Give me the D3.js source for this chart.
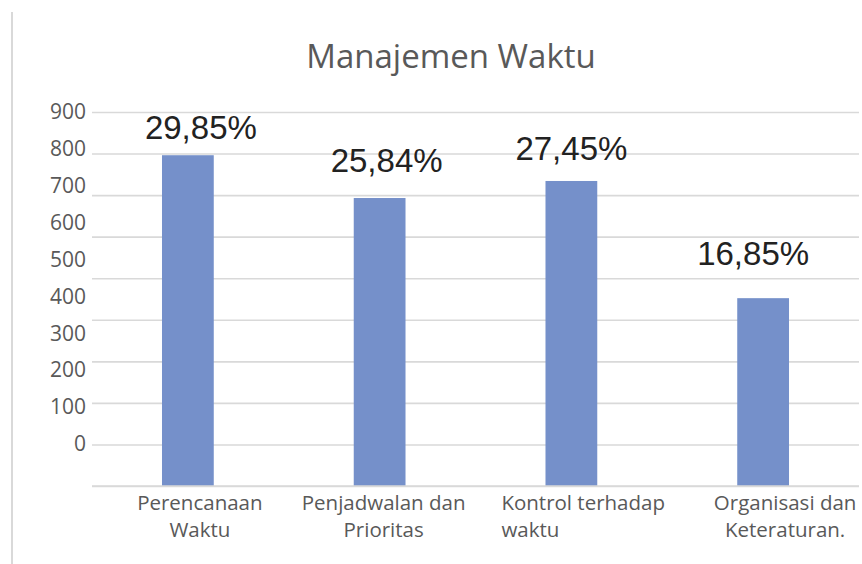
<!DOCTYPE html>
<html>
<head>
<meta charset="utf-8">
<script src="https://cdn.jsdelivr.net/npm/d3@7"></script>
<style>
  body { margin: 0; background: #fff; }
  svg { display: block; }
</style>
</head>
<body>
<svg width="862" height="564"></svg>
<script>
// data
var categories = [
  ["Perencanaan", "Waktu"],
  ["Penjadwalan dan", "Prioritas"],
  ["Kontrol terhadap", "waktu"],
  ["Organisasi dan", "Keteraturan."]
];
var values = [796, 693, 734, 452];
var percentLabels = ["29,85%", "25,84%", "27,45%", "16,85%"];
var tickValues = [0, 100, 200, 300, 400, 500, 600, 700, 800, 900];

var svg = d3.select("svg");
var grey = "#595959";

// hand-placed label offsets as in the original (dx, dy from default spot)
var pctNudge = [[13, 6], [7, -4], [0, 1], [-10, -11]];
var catNudge = [12, 4, -70, 22];
var catAnchor = ["middle", "middle", "start", "middle"];

// left frame line
svg.append("line")
  .attr("x1", 12).attr("x2", 12)
  .attr("y1", 12).attr("y2", 564)
  .attr("stroke", "#d9d9d9").attr("stroke-width", 2);

// title
svg.append("text")
  .attr("x", 451).attr("y", 68)
  .attr("text-anchor", "middle")
  .attr("font-family", "Open Sans")
  .attr("font-size", 33)
  .attr("fill", grey)
  .text("Manajemen Waktu");

var xScale = d3.scaleBand()
  .domain(d3.range(categories.length))
  .range([92, 859])
  .paddingInner(0.73)
  .paddingOuter(0.365);

// gridlines / bars use this one
var yScale = d3.scaleLinear().domain([0, 900]).range([486, 112]);
// the tick labels in the picture sit on a squeezed scale
var yLabel = d3.scaleLinear().domain([0, 900]).range([444, 112]);

var gridAxis = d3.axisLeft(yScale)
  .tickValues(tickValues)
  .tickSize(-(859 - 92))
  .tickFormat("");
var gridG = svg.append("g").attr("transform", "translate(92,0)").call(gridAxis);
gridG.select(".domain").remove();
gridG.selectAll(".tick line").attr("stroke", "#d9d9d9").attr("stroke-width", 1.6);

var labelAxis = d3.axisLeft(yLabel).tickValues(tickValues).tickSize(0).tickPadding(0);
var labG = svg.append("g").attr("transform", "translate(86,0)").call(labelAxis);
labG.select(".domain").remove();
labG.selectAll(".tick text")
  .attr("font-family", "Open Sans")
  .attr("font-size", 21)
  .attr("fill", grey);

// bars
svg.selectAll("rect.bar")
  .data(values)
  .enter()
  .append("rect")
  .attr("class", "bar")
  .attr("x", function (d, i) { return xScale(i); })
  .attr("width", xScale.bandwidth())
  .attr("y", function (d) { return yScale(d); })
  .attr("height", function (d) { return yScale(0) - yScale(d); })
  .attr("fill", "#7590ca");

// bottom line drawn over bars
svg.append("line")
  .attr("x1", 92).attr("x2", 859)
  .attr("y1", yScale(0)).attr("y2", yScale(0))
  .attr("stroke", "#d9d9d9").attr("stroke-width", 1.6);

// percentage labels
svg.selectAll("text.pct")
  .data(values)
  .enter()
  .append("text")
  .attr("class", "pct")
  .attr("x", function (d, i) { return xScale(i) + xScale.bandwidth() / 2 + pctNudge[i][0]; })
  .attr("y", function (d, i) { return yScale(d) - 22 + pctNudge[i][1]; })
  .attr("text-anchor", "middle")
  .attr("font-family", "Liberation Sans, Arial")
  .attr("font-size", 33)
  .attr("fill", "#222")
  .text(function (d, i) { return percentLabels[i]; });

// category labels, two lines each
var catG = svg.selectAll("text.cat")
  .data(categories)
  .enter()
  .append("text")
  .attr("class", "cat")
  .attr("text-anchor", function (d, i) { return catAnchor[i]; })
  .attr("font-family", "Open Sans")
  .attr("font-size", 20.5)
  .attr("fill", grey);

catG.selectAll("tspan")
  .data(function (d, i) { return d.map(function (t) { return { t: t, i: i }; }); })
  .enter()
  .append("tspan")
  .attr("x", function (d) { return xScale(d.i) + xScale.bandwidth() / 2 + catNudge[d.i]; })
  .attr("y", function (d, j) { return 510 + j * 27; })
  .text(function (d) { return d.t; });
</script>
</body>
</html>
